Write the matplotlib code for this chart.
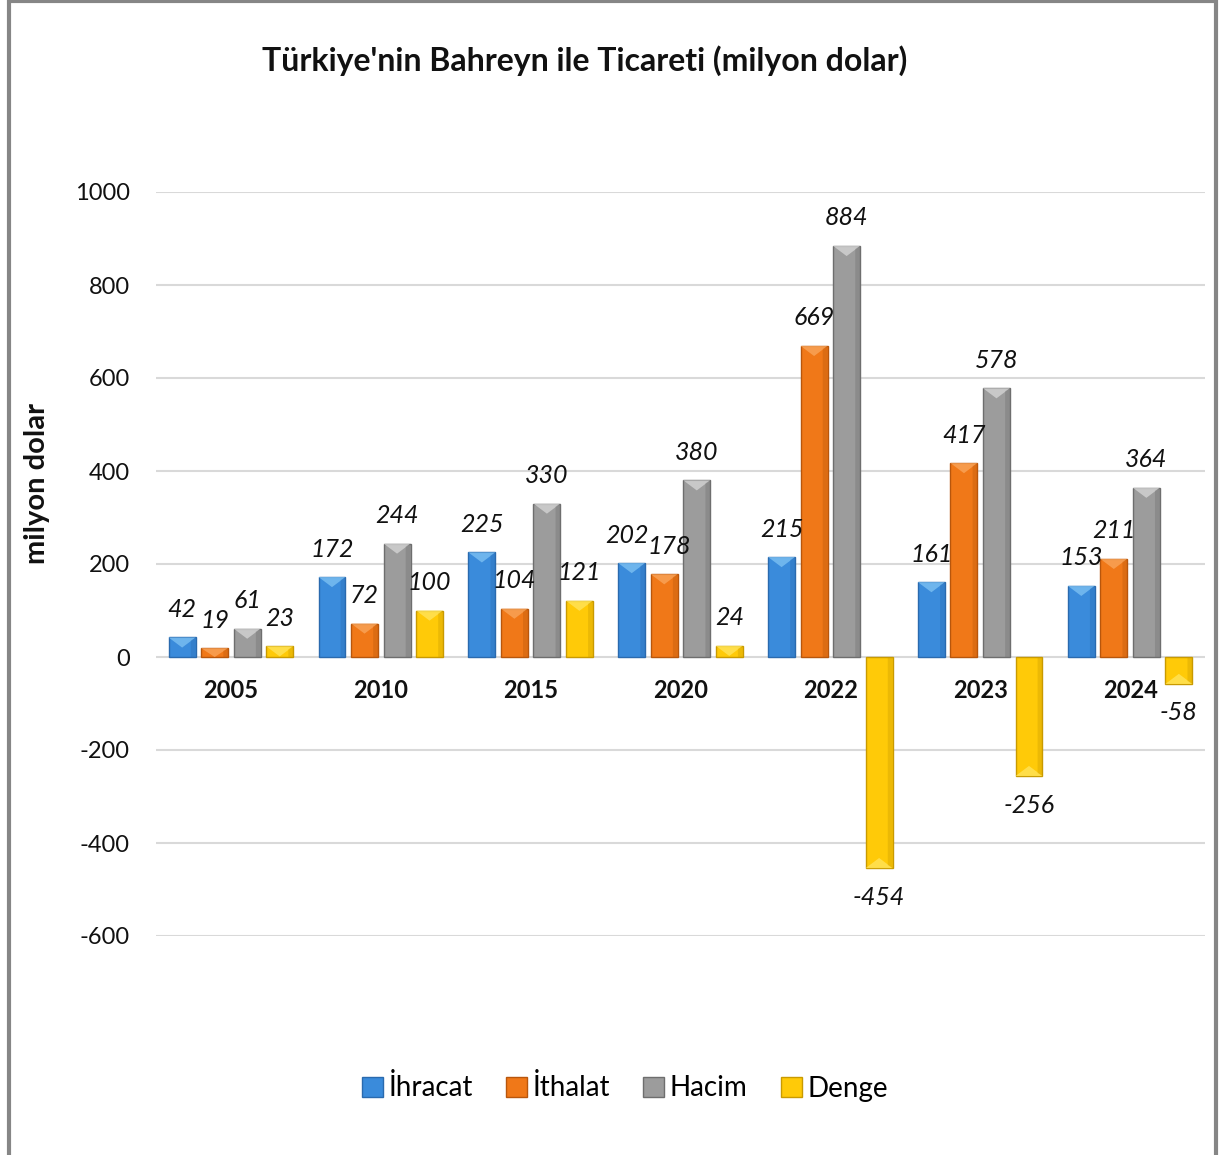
import matplotlib
matplotlib.use("Agg")
import matplotlib.pyplot as plt
import matplotlib.patches as mpatches
from matplotlib.patches import Polygon
import numpy as np

years = ["2005", "2010", "2015", "2020", "2022", "2023", "2024"]
series_names = ["İhracat", "İthalat", "Hacim", "Denge"]
ihracat = [42, 172, 225, 202, 215, 161, 153]
ithalat = [19, 72, 104, 178, 669, 417, 211]
hacim = [61, 244, 330, 380, 884, 578, 364]
denge = [23, 100, 121, 24, -454, -256, -58]
yticks = [-600, -400, -200, 0, 200, 400, 600, 800, 1000]

colors = ["#3A8BDB", "#F07818", "#9C9C9C", "#FFCA08"]
edges = ["#2A6AAE", "#B8560C", "#6E6E6E", "#C99A00"]
lights = ["#7CC0F2", "#F9A55A", "#D4D4D4", "#FFE45A"]

# small horizontal nudges (pixels) for crowded labels: (group, series) -> dx
label_nudge = {(3, 0): -5, (3, 1): 5}

plt.rcParams['font.family'] = ['Lato', 'DejaVu Sans']
plt.rcParams['axes.unicode_minus'] = False

fig = plt.figure(figsize=(12.19, 11.55), dpi=100)
ax = fig.add_axes([156/1219, 1-936/1155, (1205-156)/1219, (936-192)/1155])

x = np.arange(len(years))
pitch = 0.217
width = 0.18
all_series = [ihracat, ithalat, hacim, denge]

ax.set_xlim(-0.5, len(years) - 0.5)
ax.set_ylim(-600, 1000)
ax.set_yticks(yticks)
ax.grid(axis='y', color='#D9D9D9', linewidth=1.5, zorder=0)
ax.set_axisbelow(True)

fig.canvas.draw()
def to_px(dx, dy):
    p0 = ax.transData.transform((0, 0))
    p1 = ax.transData.transform((dx, dy))
    return p1 - p0

py_per_unit = to_px(0, 1)[1]

for i, vals in enumerate(all_series):
    pos = x + (i - 1.5) * pitch
    bars = ax.bar(pos, vals, width, color=colors[i], edgecolor=edges[i],
                  linewidth=1.0, zorder=3)
    for j, (b, v) in enumerate(zip(bars, vals)):
        x0 = b.get_x()
        w = b.get_width()
        h = v
        half_px = to_px(w, 0)[0] / 2
        depth = min(half_px * 0.75 / py_per_unit, abs(h))
        sgn = 1 if h >= 0 else -1
        top = h
        tri = Polygon([[x0, top], [x0 + w, top], [x0 + w / 2, top - sgn * depth]],
                      closed=True, facecolor=lights[i], edgecolor='none',
                      alpha=0.8, zorder=4)
        ax.add_patch(tri)
        side = Polygon([[x0 + w * 0.82, 0], [x0 + w, 0], [x0 + w, top],
                        [x0 + w * 0.82, top - sgn * min(depth, abs(h)) * 0.3]],
                       closed=True, facecolor=edges[i], edgecolor='none',
                       alpha=0.35, zorder=4)
        ax.add_patch(side)
        off = 28 if h >= 0 else -29
        dx = label_nudge.get((j, i), 0)
        ax.annotate(f"{v}", xy=(x0 + w / 2, h), xytext=(dx, off),
                    textcoords='offset pixels', ha='center', va='center',
                    fontsize=18, fontstyle='italic', color='#111111', zorder=5)

for xi, yr in zip(x, years):
    ax.annotate(yr, xy=(xi, 0), xytext=(0, -34), textcoords='offset pixels',
                ha='center', va='center', fontsize=17, fontweight='bold',
                color='#111111')

ax.set_xticks([])
for s in ['top', 'right', 'left', 'bottom']:
    ax.spines[s].set_visible(False)
ax.tick_params(axis='y', length=0, labelsize=17, pad=19, labelcolor='#111111')

fig.text(37/1219, 1-483/1155, "milyon dolar", rotation=90, ha='center', va='center',
         fontsize=21, fontweight='bold', color='#111111')
fig.text(585/1219, 1-61/1155, "Türkiye'nin Bahreyn ile Ticareti (milyon dolar)",
         ha='center', va='center', fontsize=23, fontweight='bold', color='#111111')

handles = [mpatches.Patch(facecolor=colors[i], edgecolor=edges[i], label=series_names[i])
           for i in range(4)]
fig.legend(handles=handles, loc='center', bbox_to_anchor=(625/1219, 1-1088/1155),
           ncol=4, frameon=False, fontsize=20, handlelength=0.75, handleheight=0.75,
           handletextpad=0.2, columnspacing=1.2)

fig.patches.append(mpatches.Rectangle((8.5/1219, -0.01), (1216-8.5)/1219, 1.0 + 0.01 - 1/1155,
                                      transform=fig.transFigure, fill=False,
                                      edgecolor='#868686', linewidth=3))

fig.savefig("out.png", dpi=100)
